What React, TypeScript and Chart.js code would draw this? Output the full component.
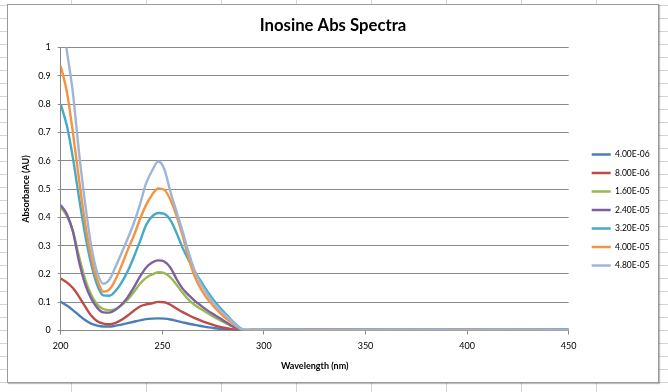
import React, { useEffect, useRef } from "react";
import { Chart, registerables } from "chart.js";

Chart.register(...registerables);

// ---------- data ----------
const wavelengths = [
  200, 203, 206, 209, 212, 215, 218, 221, 224, 227, 230, 233, 236, 239, 242, 245,
  248, 251, 254, 257, 260, 263, 266, 269, 272, 275, 278, 281, 284, 287, 290,
  295, 300, 325, 350, 375, 400, 425, 450,
];

const seriesLabels = ["4.00E-06", "8.00E-06", "1.60E-05", "2.40E-05", "3.20E-05", "4.00E-05", "4.80E-05"];

const conc4_00e06 = [
  0.102, 0.088, 0.072, 0.054, 0.037, 0.024, 0.017, 0.014, 0.014, 0.017, 0.021, 0.026, 0.031, 0.036, 0.040, 0.042,
  0.043, 0.042, 0.039, 0.034, 0.029, 0.024, 0.020, 0.016, 0.012, 0.009, 0.006, 0.004, 0.003, 0.002, 0.001,
  0.001, 0.002, 0.002, 0.001, 0.002, 0.001, 0.002, 0.001,
];
const conc8_00e06 = [
  0.184, 0.170, 0.150, 0.120, 0.085, 0.053, 0.033, 0.024, 0.022, 0.027, 0.038, 0.053, 0.070, 0.085, 0.092, 0.096,
  0.101, 0.100, 0.091, 0.078, 0.065, 0.054, 0.044, 0.035, 0.027, 0.020, 0.014, 0.009, 0.005, 0.002, 0.001,
  0.002, 0.001, 0.003, 0.002, 0.002, 0.003, 0.002, 0.002,
];
const conc1_60e05 = [
  0.436, 0.405, 0.352, 0.262, 0.182, 0.126, 0.092, 0.076, 0.072, 0.076, 0.090, 0.110, 0.136, 0.165, 0.186, 0.198,
  0.206, 0.203, 0.188, 0.162, 0.133, 0.108, 0.090, 0.076, 0.063, 0.050, 0.038, 0.027, 0.016, 0.007, 0.001,
  0.002, 0.003, 0.002, 0.003, 0.002, 0.002, 0.003, 0.002,
];
const conc2_40e05 = [
  0.443, 0.412, 0.350, 0.245, 0.165, 0.113, 0.080, 0.064, 0.063, 0.073, 0.092, 0.118, 0.152, 0.190, 0.222, 0.240,
  0.248, 0.244, 0.222, 0.182, 0.148, 0.125, 0.105, 0.088, 0.072, 0.058, 0.045, 0.031, 0.017, 0.007, 0.001,
  0.002, 0.002, 0.003, 0.002, 0.003, 0.002, 0.002, 0.003,
];
const conc3_20e05 = [
  0.800, 0.725, 0.610, 0.470, 0.340, 0.235, 0.160, 0.124, 0.123, 0.140, 0.170, 0.210, 0.260, 0.315, 0.372, 0.403,
  0.415, 0.412, 0.390, 0.345, 0.292, 0.248, 0.208, 0.174, 0.140, 0.110, 0.084, 0.060, 0.037, 0.017, 0.003,
  0.002, 0.002, 0.002, 0.003, 0.002, 0.002, 0.002, 0.003,
];
const conc4_00e05 = [
  0.935, 0.845, 0.700, 0.535, 0.380, 0.260, 0.180, 0.137, 0.145, 0.180, 0.230, 0.285, 0.335, 0.393, 0.443, 0.480,
  0.502, 0.497, 0.462, 0.405, 0.335, 0.255, 0.190, 0.147, 0.114, 0.088, 0.065, 0.045, 0.028, 0.012, 0.002,
  0.003, 0.002, 0.003, 0.002, 0.003, 0.003, 0.002, 0.002,
];
const conc4_80e05 = [
  1.140, 0.990, 0.840, 0.630, 0.450, 0.300, 0.205, 0.165, 0.180, 0.225, 0.275, 0.325, 0.380, 0.445, 0.520, 0.565,
  0.597, 0.570, 0.490, 0.420, 0.350, 0.275, 0.210, 0.165, 0.130, 0.100, 0.076, 0.054, 0.034, 0.015, 0.003,
  0.002, 0.003, 0.002, 0.002, 0.003, 0.002, 0.003, 0.002,
];

const seriesValues = [conc4_00e06, conc8_00e06, conc1_60e05, conc2_40e05, conc3_20e05, conc4_00e05, conc4_80e05];

const seriesColors = ["#4A7EBB", "#BE4B48", "#98B954", "#7D60A0", "#46AAC5", "#F69240", "#9DB6D8"];

const xMin = 200;
const xMax = 450;
const xStep = 50;
const yMin = 0;
const yMax = 1;
const yStep = 0.1;

// ---------- layout constants (canvas coordinates) ----------
const CANVAS_W = 650;
const CANVAS_H = 377;
const PLOT_LEFT = 52.7;
const PLOT_RIGHT = 560.7;
const X_AXIS_H = 51.5;
const LEGEND_LEFT = 573.7;
const LEGEND_DY = 16.5;

const layoutFix = {
  id: "layoutFix",
  afterLayout(chart: any) {
    const lg = chart.legend;
    if (lg) {
      const w = lg.right - lg.left;
      lg.left = LEGEND_LEFT;
      lg.right = LEGEND_LEFT + w;
      lg.top += LEGEND_DY;
      lg.bottom += LEGEND_DY;
    }
    const tb = chart.titleBlock;
    if (tb) {
      tb.left = 0;
      tb.right = CANVAS_W;
      tb.width = CANVAS_W;
    }
  },
};

export default function App() {
  const ref = useRef<HTMLCanvasElement>(null);

  useEffect(() => {
    const canvas = ref.current;
    if (!canvas) return;
    Chart.defaults.font.family = "Lato, 'DejaVu Sans', sans-serif";
    Chart.defaults.color = "#000";

    const datasets = seriesLabels.map((label, i) => ({
      label,
      data: wavelengths.map((w, j) => ({ x: w, y: seriesValues[i][j] })),
      borderColor: seriesColors[i],
      backgroundColor: seriesColors[i],
      borderWidth: 2.4,
      pointRadius: 0,
      pointHoverRadius: 0,
      pointStyle: "line",
      fill: false,
      cubicInterpolationMode: "monotone" as const,
      order: seriesLabels.length - i,
    }));

    const options: any = {
      responsive: false,
      animation: false,
      maintainAspectRatio: false,
      layout: { padding: { left: 0, top: 0, bottom: 0, right: 0 } },
      plugins: {
        title: {
          display: true,
          text: "Inosine Abs Spectra",
          color: "#000",
          font: { size: 16.7, weight: "bold" },
          padding: { top: 10.5, bottom: 12.0 },
        },
        legend: {
          display: true,
          position: "right",
          labels: {
            usePointStyle: true,
            pointStyle: "line",
            pointStyleWidth: 19,
            padding: 10,
            color: "#000",
            font: { size: 8.5 },
            sort: (a: any, b: any) => a.datasetIndex - b.datasetIndex,
          },
        },
        tooltip: { enabled: false },
      },
      scales: {
        x: {
          type: "linear",
          min: xMin,
          max: xMax,
          ticks: {
            stepSize: xStep,
            padding: 6.5,
            color: "#000",
            font: { size: 9 },
            maxRotation: 0,
            autoSkip: false,
          },
          grid: {
            display: true,
            drawOnChartArea: false,
            drawTicks: true,
            tickLength: 4,
            color: "#8a8a8a",
          },
          border: { display: true, color: "#8a8a8a", width: 1 },
          title: {
            display: true,
            text: "Wavelength (nm)",
            color: "#000",
            font: { size: 9, weight: "bold" },
            padding: { top: 0, bottom: 10.1 },
          },
          afterFit: (s: any) => {
            s.height = X_AXIS_H;
          },
        },
        y: {
          type: "linear",
          min: yMin,
          max: yMax,
          ticks: {
            stepSize: yStep,
            padding: 7,
            color: "#000",
            font: { size: 9 },
            callback: (v: any) => String(Math.round(Number(v) * 10) / 10),
          },
          grid: { color: "#8a8a8a", tickLength: 3 },
          border: { display: true, color: "#8a8a8a", width: 1 },
          title: {
            display: true,
            text: "Absorbance (AU)",
            color: "#000",
            font: { size: 9, weight: "bold" },
            padding: { top: 13.1, bottom: 0 },
          },
          afterFit: (s: any) => {
            s.width = PLOT_LEFT;
          },
        },
      },
    };

    const chart = new Chart(canvas, {
      type: "line",
      data: { datasets },
      options,
      plugins: [layoutFix],
    });

    const lw = chart.legend ? (chart.legend as any).width : 0;
    (chart.config.options as any).layout.padding.right = Math.max(0, CANVAS_W - PLOT_RIGHT - lw);
    chart.update();

    return () => chart.destroy();
  }, []);

  return (
    <div
      style={{
        position: "absolute",
        left: 0,
        top: 0,
        width: 668,
        height: 392,
        backgroundColor: "#fff",
        backgroundImage:
          "linear-gradient(to right, #d4d4d4 1px, transparent 1px), linear-gradient(to bottom, #d4d4d4 1px, transparent 1px)",
        backgroundSize: "75px 100%, 100% 13px",
        backgroundPosition: "71px 0, 0 5px",
        overflow: "hidden",
      }}
    >
      <div
        style={{
          position: "absolute",
          left: 7,
          top: 4,
          width: CANVAS_W,
          height: CANVAS_H,
          border: "1px solid #9a9a9a",
          boxShadow: "1px 1px 1px rgba(0,0,0,0.25)",
          background: "#fff",
        }}
      >
        <canvas ref={ref} width={CANVAS_W} height={CANVAS_H} style={{ display: "block" }} />
      </div>
    </div>
  );
}
